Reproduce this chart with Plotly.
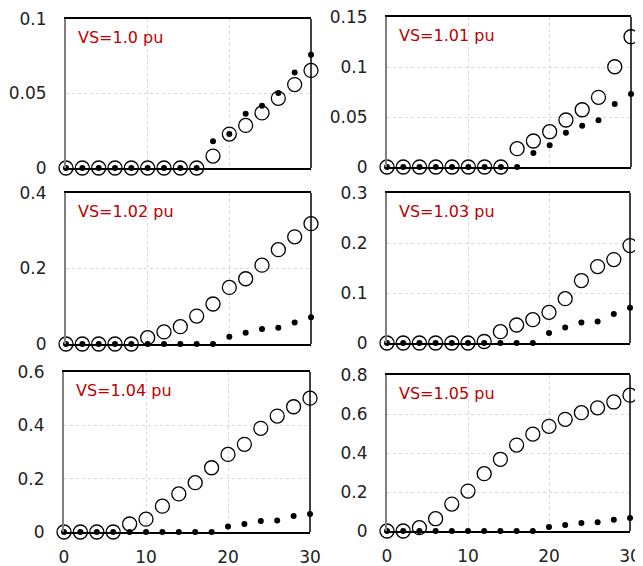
import plotly.graph_objects as go
from plotly.subplots import make_subplots

x_vals = [0, 2, 4, 6, 8, 10, 12, 14, 16, 18, 20, 22, 24, 26, 28, 30]

labels = ["VS=1.0 pu", "VS=1.01 pu", "VS=1.02 pu", "VS=1.03 pu", "VS=1.04 pu", "VS=1.05 pu"]

open_10 = [0, 0, 0, 0, 0, 0, 0, 0, 0, 0.008, 0.0228, 0.0286, 0.037, 0.0468, 0.056, 0.0655]
dot_10 = [0, 0, 0, 0, 0, 0, 0, 0, 0, 0.0179, 0.0228, 0.0365, 0.0418, 0.0503, 0.0642, 0.076]

open_101 = [0, 0, 0, 0, 0, 0, 0, 0, 0.0183, 0.026, 0.0353, 0.047, 0.0573, 0.0697, 0.1003, 0.1303]
dot_101 = [0, 0, 0, 0, 0, 0, 0, 0, 0, 0.014, 0.0217, 0.0343, 0.0413, 0.0467, 0.063, 0.073]

open_102 = [0, 0, 0, 0, 0, 0.0168, 0.032, 0.046, 0.074, 0.106, 0.150, 0.173, 0.209, 0.250, 0.284, 0.319]
dot_102 = [0, 0, 0, 0, 0, 0, 0, 0, 0, 0, 0.0195, 0.030, 0.040, 0.043, 0.057, 0.071]

open_103 = [0, 0, 0, 0, 0, 0, 0.003, 0.0227, 0.036, 0.0467, 0.0613, 0.0887, 0.125, 0.153, 0.167, 0.195]
dot_103 = [0, 0, 0, 0, 0, 0, 0, 0, 0, 0, 0.020, 0.031, 0.041, 0.043, 0.058, 0.0707]

open_104 = [0, 0, 0, 0, 0.030, 0.048, 0.097, 0.143, 0.185, 0.241, 0.291, 0.329, 0.389, 0.435, 0.470, 0.502]
dot_104 = [0, 0, 0, 0, 0, 0, 0, 0, 0, 0, 0.021, 0.030, 0.041, 0.0435, 0.060, 0.068]

open_105 = [0, 0, 0.017, 0.063, 0.138, 0.205, 0.294, 0.368, 0.441, 0.497, 0.537, 0.573, 0.607, 0.632, 0.662, 0.697]
dot_105 = [0, 0, 0, 0, 0, 0, 0, 0, 0, 0, 0.0205, 0.031, 0.041, 0.0445, 0.058, 0.067]

# y tick values / labels per panel
y_ticks_10 = [0, 0.05, 0.1]
y_ticks_101 = [0, 0.05, 0.1, 0.15]
y_ticks_102 = [0, 0.2, 0.4]
y_ticks_103 = [0, 0.1, 0.2, 0.3]
y_ticks_104 = [0, 0.2, 0.4, 0.6]
y_ticks_105 = [0, 0.2, 0.4, 0.6, 0.8]
x_ticks = [0, 10, 20, 30]

open_series = [open_10, open_101, open_102, open_103, open_104, open_105]
dot_series = [dot_10, dot_101, dot_102, dot_103, dot_104, dot_105]
y_ticks = [y_ticks_10, y_ticks_101, y_ticks_102, y_ticks_103, y_ticks_104, y_ticks_105]

# page body has an 8px margin, so the figure starts at (8, 8) of the window
OFF = 8
W, H = 643 - OFF, 566 - OFF
# pixel boxes in window coordinates (left, right, top, bottom)
boxes = [
    (66, 311, 19, 168),
    (387, 631, 17, 167),
    (66, 311, 193, 344),
    (387, 630, 193, 343),
    (64, 310, 372, 532),
    (387, 630, 375, 531),
]

fig = make_subplots(rows=3, cols=2)
font_family = "DejaVu Sans, Verdana, sans-serif"

for i in range(6):
    r, c = i // 2 + 1, i % 2 + 1
    fig.add_trace(go.Scatter(
        x=x_vals, y=open_series[i], mode="markers", cliponaxis=False,
        marker=dict(symbol="circle-open", size=14, color="black", line=dict(width=1.3)),
        showlegend=False), row=r, col=c)
    fig.add_trace(go.Scatter(
        x=x_vals, y=dot_series[i], mode="markers", cliponaxis=False,
        marker=dict(symbol="circle", size=6, color="black"),
        showlegend=False), row=r, col=c)

    l, rt, t, b = [v - OFF for v in boxes[i]]
    ax = "" if i == 0 else str(i + 1)
    yt = y_ticks[i]
    fig.layout["xaxis" + ax].update(
        domain=[l / W, rt / W], range=[x_ticks[0], x_ticks[-1]],
        tickmode="array", tickvals=x_ticks, ticktext=[str(v) for v in x_ticks],
        automargin=False, ticklabeloverflow="allow",
        showgrid=True, gridcolor="#d9d9d9", griddash="dot", gridwidth=1,
        zeroline=False, showline=True, linecolor="black", linewidth=1.5, mirror=True,
        showticklabels=(i >= 4), ticks="", ticklabelstandoff=9,
        tickfont=dict(family=font_family, size=17, color="#222"))
    fig.layout["yaxis" + ax].update(
        domain=[1 - b / H, 1 - t / H], range=[0, yt[-1] * 1.0005],
        tickmode="array", tickvals=yt, ticktext=[f"{v:g}" for v in yt],
        automargin=False, ticklabeloverflow="allow",
        showgrid=True, gridcolor="#d9d9d9", griddash="dot", gridwidth=1,
        zeroline=False, showline=True, linecolor="#7f7f7f", linewidth=2,
        ticks="", ticklabelstandoff=14,
        tickfont=dict(family=font_family, size=17, color="#222"))
    xref = "x" + ax
    yref = "y" + ax
    fig.add_shape(type="line", xref=xref + " domain", yref=yref + " domain",
                  x0=1, x1=1, y0=0, y1=1, line=dict(color="black", width=1.5))
    fig.add_annotation(text=labels[i], xref=xref + " domain", yref=yref + " domain",
                       x=0.04, y=1, xanchor="left", yanchor="top", yshift=-7,
                       showarrow=False,
                       font=dict(family=font_family, size=16, color="#c00000"))

fig.update_layout(width=W, height=H, margin=dict(l=0, r=0, t=0, b=0),
                  plot_bgcolor="white", paper_bgcolor="white", showlegend=False)

fig.write_html("out.html")
